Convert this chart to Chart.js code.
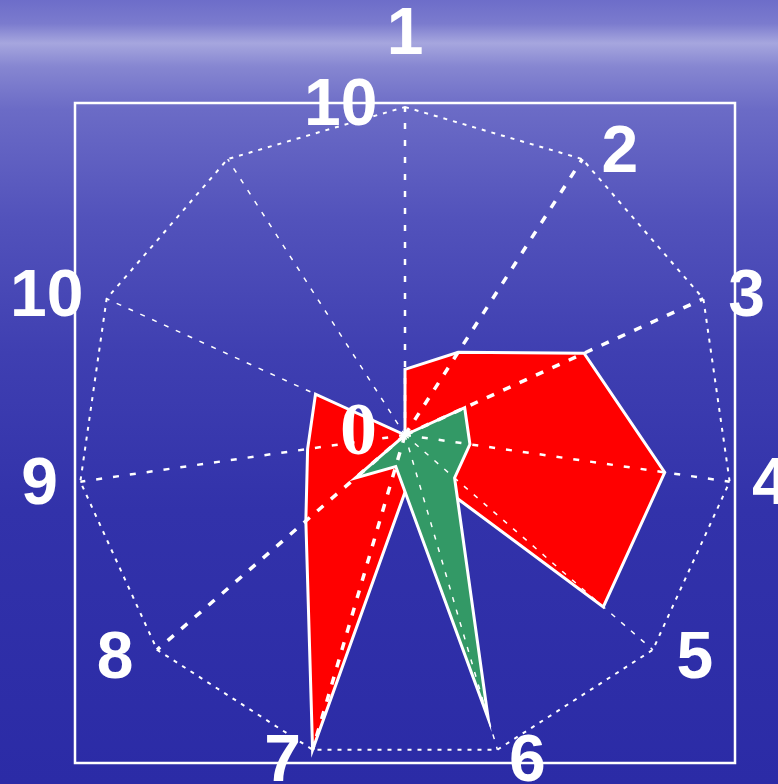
<!DOCTYPE html>
<html>
<head>
<meta charset="utf-8">
<title>Radar</title>
<script src="https://cdn.jsdelivr.net/npm/chart.js@4.4.1/dist/chart.umd.min.js"></script>
<style>
  html, body { margin: 0; padding: 0; overflow: hidden; }
  body {
    width: 778px;
    height: 784px;
    background: linear-gradient(to bottom,
      #6d6dc9 0%, #7b7bce 3%, #a6a6de 5.5%, #8686d1 8.5%, #6b6bc6 14%,
      #5252bb 28%, #3f3fb1 45%, #3232aa 65%, #2b2ba6 100%);
  }
  #wrap { position: absolute; left: 0; top: 0; width: 778px; height: 840px; }
</style>
</head>
<body>
<div id="wrap"><canvas id="radar"></canvas></div>
<script>
// datos
const ejes = ['1', '2', '3', '4', '5', '6', '7', '8', '9', '10', ''];
const serieRoja = [2, 3, 6, 8, 8, 1, 10, 4, 3, 3, 0];
const serieVerde = [0, 0, 2, 2, 2, 9, 1, 2, 0, 0, 0];
const etiquetasValor = ['0', '10'];

// estilos de las lineas radiales
const fina = { w: 1.5, dash: [5, 8] };
const media = { w: 2.5, dash: [6, 11] };
const gruesa = { w: 3.5, dash: [8, 10] };
const estiloEje = [media, gruesa, gruesa, media, fina, fina, gruesa, gruesa, media, fina, fina];

const textoPlugin = {
  id: 'textoPlugin',
  beforeDraw(chart) {
    const r = chart.scales.r;
    const ctx = chart.ctx;
    ctx.save();
    ctx.strokeStyle = '#ffffff';
    ctx.lineWidth = 2.5;
    ctx.strokeRect(r.xCenter - r.drawingArea - 2, r.yCenter - r.drawingArea - 4,
      2 * r.drawingArea + 4, 2 * r.drawingArea + 4);
    ctx.restore();
  },
  afterDraw(chart) {
    const r = chart.scales.r;
    const ctx = chart.ctx;
    ctx.save();
    ctx.fillStyle = '#ffffff';
    ctx.font = 'bold 66px "Liberation Sans"';
    ctx.textAlign = 'center';
    ctx.textBaseline = 'middle';
    chart.data.labels.forEach((lab, i) => {
      if (!lab) return;
      const ang = r.getIndexAngle(i);
      const s = Math.sin(ang), c = Math.cos(ang);
      const w = ctx.measureText(lab).width;
      const lado = Math.sign(Math.round(s * 1000));
      let x = r.xCenter + s * (r.drawingArea + 38) + lado * (20 * Math.abs(c) + Math.max(0, w / 2 - 18) * Math.abs(s));
      let y = r.yCenter - c * (r.drawingArea + 10) + 3;
      if (i === 0) y -= 64; // deja sitio a la etiqueta "10" del eje
      ctx.fillText(lab, x, y);
    });
    // el cero en el centro
    const c0 = r.getPointPositionForValue(0, 0);
    ctx.font = 'bold 74px "Liberation Serif"';
    ctx.textAlign = 'right';
    ctx.fillText(etiquetasValor[0], c0.x - 28, c0.y);
    ctx.restore();
  }
};

Chart.defaults.font.family = '"Liberation Sans", Arial, sans-serif';

new Chart(document.getElementById('radar'), {
  type: 'radar',
  data: {
    labels: ejes,
    datasets: [
      {
        label: 'Serie 1',
        data: serieRoja,
        backgroundColor: '#ff0000',
        borderColor: '#ffffff',
        borderWidth: 3,
        borderJoinStyle: 'miter',
        pointRadius: 0,
        fill: true,
        order: 1
      },
      {
        label: 'Serie 2',
        data: serieVerde,
        backgroundColor: '#339966',
        borderColor: '#ffffff',
        borderWidth: 3,
        borderJoinStyle: 'miter',
        pointRadius: 0,
        fill: true,
        order: 0
      }
    ]
  },
  options: {
    responsive: true,
    maintainAspectRatio: false,
    animation: false,
    layout: { padding: { left: 42, right: 10, top: 72, bottom: 42 } },
    plugins: {
      legend: { display: false },
      tooltip: { enabled: false }
    },
    scales: {
      r: {
        min: 0,
        max: 10,
        ticks: {
          stepSize: 10,
          z: 1,
          color: '#ffffff',
          font: { size: 66, weight: 'bold' },
          showLabelBackdrop: false,
          callback: (v) => v === 10 ? etiquetasValor[1] + '       ' : ''
        },
        grid: { z: 1, color: '#ffffff', lineWidth: 2, borderDash: [4, 6] },
        border: { dash: [4, 6] },
        angleLines: {
          color: '#ffffff',
          lineWidth: (ctx) => estiloEje[ctx.index].w,
          borderDash: (ctx) => estiloEje[ctx.index].dash
        },
        pointLabels: { display: false }
      }
    }
  },
  plugins: [textoPlugin]
});
</script>
</body>
</html>
